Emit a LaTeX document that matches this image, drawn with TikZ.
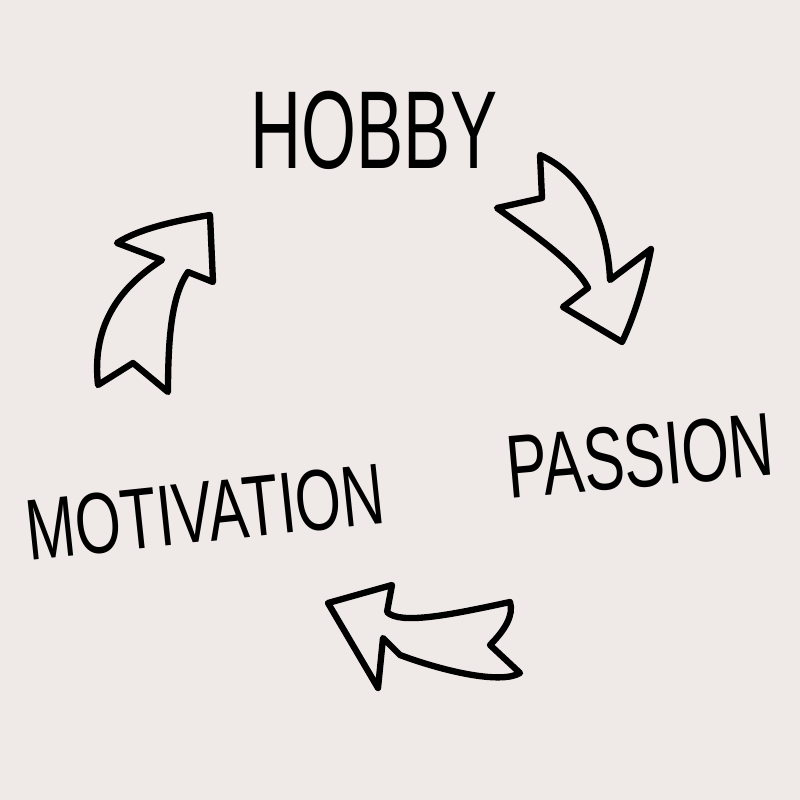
\documentclass[tikz,border=0pt]{standalone}
\usepackage{fontspec}
\setmainfont{Liberation Sans}
\definecolor{paper}{RGB}{239,233,231}
\tikzset{
    word/.style={inner sep=0pt, font=\fontsize{30}{30}\selectfont},
    bigarrow/.style={line width=1.8pt, line join=round, black}
}
\begin{document}
\begin{tikzpicture}[x=0.01cm, y=-0.01cm]

            %----- PAPER -----
            \fill[paper] (0,0) rectangle (800,800);
            \useasboundingbox (0,0) rectangle (800,800);

            %----- WORDS -----
            \node[word, xscale=0.67, yscale=1.05] (hobby) at (374,130) {HOBBY};
            \node[word, rotate=5, xscale=0.58, yscale=0.85] (passion) at (640,456) {PASSION};
            \node[word, rotate=6, xscale=0.56, yscale=0.82] (motivation) at (205,512) {MOTIVATION};

            %----- ARROW HOBBY TO PASSION -----
            \draw[bigarrow] (540,155) -- (542,198) -- (497,208)
                .. controls (530,232) and (575,262) .. (588,288)
                -- (563,307) -- (622,342)
                .. controls (635,315) and (645,280) .. (651,249)
                -- (610,280)
                .. controls (608,225) and (585,175) .. cycle;

            %----- ARROW PASSION TO MOTIVATION -----
            \draw[bigarrow] (328,603) -- (392,585) -- (387,612)
                .. controls (400,625) and (450,615) .. (510,602)
                .. controls (514,615) and (505,630) .. (490,645)
                -- (520,673)
                .. controls (500,685) and (440,670) .. (400,655)
                -- (383,638) -- (378,688) -- cycle;

            %----- ARROW MOTIVATION TO HOBBY -----
            \draw[bigarrow] (210,215) -- (213,282) -- (188,272)
                .. controls (172,295) and (168,335) .. (168,392)
                -- (133,363) -- (98,385)
                .. controls (92,330) and (115,290) .. (162,260)
                -- (117,243)
                .. controls (140,228) and (180,220) .. cycle;

        \end{tikzpicture}
\end{document}
